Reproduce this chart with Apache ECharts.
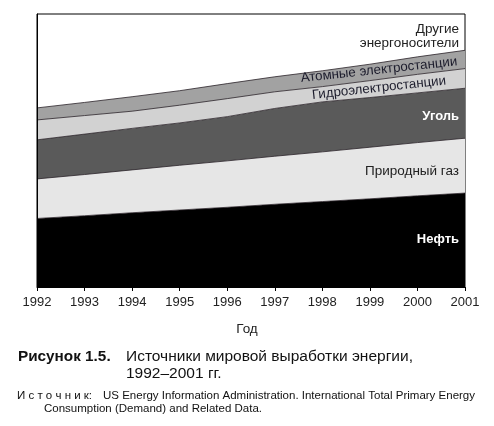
<!DOCTYPE html>
<html>
<head>
<meta charset="utf-8">
<script src="https://cdn.jsdelivr.net/npm/echarts@6/dist/echarts.min.js"></script>
<style>
html,body{margin:0;padding:0;background:#fff;}
#c{width:494px;height:426px;}
</style>
</head>
<body>
<div id="c"></div>
<script>
var years = ['1992','1993','1994','1995','1996','1997','1998','1999','2000','2001'];
var oil     = [25.1, 26.1, 27.2, 28.2, 29.2, 30.3, 31.3, 32.3, 33.4, 34.4];
var gas     = [14.5, 15.1, 15.7, 16.4, 17.0, 17.6, 18.2, 18.9, 19.5, 20.1];
var coal    = [14.3, 14.8, 15.2, 15.5, 16.2, 17.5, 18.3, 18.2, 18.2, 18.3];
var hydro   = [7.3, 6.8, 6.3, 6.5, 6.6, 6.1, 5.6, 6.2, 6.8, 7.2];
var nuclear = [4.4, 4.8, 5.3, 5.3, 5.5, 5.5, 5.8, 6.0, 6.4, 6.7];

var FONT = '"Liberation Sans", Arial, sans-serif';
var edge = '#2a2228';

function layer(name, data, fill) {
  return {
    name: name, type: 'line', stack: 'all', data: data,
    symbol: 'none', silent: true,
    lineStyle: { color: edge, width: 0.8 },
    areaStyle: { color: fill, opacity: 1 }
  };
}

function txt(x, y, s, fill, font, align, rot) {
  return { type: 'text', x: x, y: y, z: 100, zlevel: 0, rotation: rot || 0,
    style: { text: s, fill: fill, font: font, textAlign: align, textVerticalAlign: 'middle' } };
}

var chart = echarts.init(document.getElementById('c'));
chart.setOption({
  animation: false,
  backgroundColor: '#fff',
  grid: { left: 37, right: 29, top: 14, bottom: 139, show: true, borderColor: '#000', borderWidth: 1, backgroundColor: 'transparent' },
  xAxis: {
    type: 'category', data: years, boundaryGap: false,
    axisLine: { lineStyle: { color: '#000', width: 1 } },
    axisTick: { show: true, length: 4, lineStyle: { color: '#000' } },
    axisLabel: { color: '#222', fontSize: 13, fontFamily: FONT, margin: 9 },
    name: 'Год', nameLocation: 'middle', nameGap: 35,
    nameTextStyle: { color: '#222', fontSize: 13.5, fontFamily: FONT, padding: [0, 8, 0, 0] },
    z: 10
  },
  yAxis: {
    type: 'value', min: 0, max: 100,
    axisLine: { show: true, lineStyle: { color: '#000', width: 1 } },
    axisTick: { show: false }, axisLabel: { show: false }, splitLine: { show: false },
    z: 10
  },
  series: [
    layer('Нефть', oil, '#000000'),
    layer('Природный газ', gas, '#e6e6e6'),
    layer('Уголь', coal, '#5a5a5a'),
    layer('Гидроэлектростанции', hydro, '#d2d2d2'),
    layer('Атомные электростанции', nuclear, '#a2a2a2')
  ],
  graphic: [
    txt(459, 29, 'Другие', '#222', '13.5px ' + FONT, 'right'),
    txt(459, 43, 'энергоносители', '#222', '13.5px ' + FONT, 'right'),
    txt(379, 70, 'Атомные электростанции', '#1c1c2c', '13.3px ' + FONT, 'center', 6.1 * Math.PI / 180),
    txt(379, 88, 'Гидроэлектростанции', '#1c1c2c', '13.3px ' + FONT, 'center', 6.2 * Math.PI / 180),
    txt(459, 116, 'Уголь', '#fff', 'bold 13px ' + FONT, 'right'),
    txt(459, 171, 'Природный газ', '#222', '13.5px ' + FONT, 'right'),
    txt(459, 239, 'Нефть', '#fff', 'bold 13px ' + FONT, 'right'),
    txt(18, 357, 'Рисунок 1.5.', '#111', 'bold 15.3px ' + FONT, 'left'),
    txt(126, 357, 'Источники мировой выработки энергии,', '#111', '15.5px ' + FONT, 'left'),
    txt(126, 374, '1992–2001 гг.', '#111', '15.5px ' + FONT, 'left'),
    txt(17, 396, 'И с т о ч н и к:', '#111', '11.5px ' + FONT, 'left'),
    txt(103, 396, 'US Energy Information Administration. International Total Primary Energy', '#111', '11.5px ' + FONT, 'left'),
    txt(44, 409, 'Consumption (Demand) and Related Data.', '#111', '11.5px ' + FONT, 'left')
  ]
});
</script>
</body>
</html>
